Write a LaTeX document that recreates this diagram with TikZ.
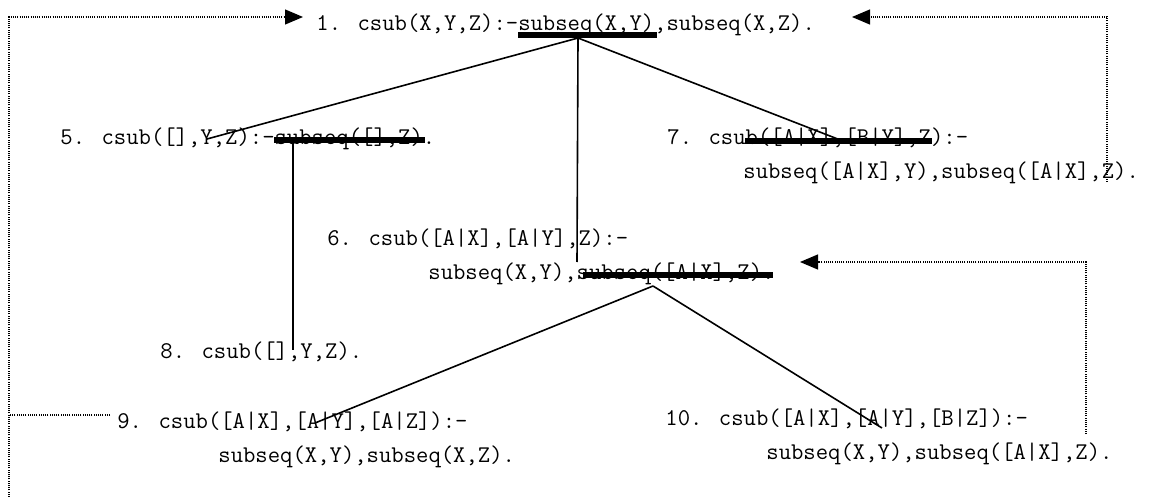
\documentclass[tikz,border=0pt]{standalone}
\usepackage{fontspec}
\usetikzlibrary{arrows.meta}

\tikzset{
  clause/.style={anchor=base west, inner sep=0pt, font=\fontsize{12}{17}\selectfont\ttfamily},
  branch/.style={line width=0.8pt},
  cut/.style={line width=2.6pt},
  dots/.style={line width=0.6pt, dash pattern=on 0.5pt off 0.6pt},
  loopback/.style={dots, -{Triangle[length=9pt,width=7.5pt]}},
}

\begin{document}
\begin{tikzpicture}[x=0.5pt,y=-0.5pt]
			\useasboundingbox (0,0) rectangle (1150,497);
			% Clausulas
				\node[clause] (c1) at (316,31) {1. csub(X,Y,Z):-subseq(X,Y),subseq(X,Z).};
				\node[clause] (c5) at (60,145) {5. csub([],Y,Z):-subseq([],Z).};
				\node[clause] (c7) at (667,145) {7. csub([A|X],[B|Y],Z):-};
				\node[clause] (c7b) at (743,179) {subseq([A|X],Y),subseq([A|X],Z).};
				\node[clause] (c6) at (327,245) {6. csub([A|X],[A|Y],Z):-};
				\node[clause] (c6b) at (428,279) {subseq(X,Y),subseq([A|X],Z).};
				\node[clause] (c8) at (160,358) {8. csub([],Y,Z).};
				\node[clause] (c9) at (117,428) {9. csub([A|X],[A|Y],[A|Z]):-};
				\node[clause] (c9b) at (218,462) {subseq(X,Y),subseq(X,Z).};
				\node[clause] (c10) at (665,425) {10. csub([A|X],[A|Y],[B|Z]):-};
				\node[clause] (c10b) at (766,459) {subseq(X,Y),subseq([A|X],Z).};
			
			% Tachados
				\draw[cut] (518,35) -- (657,35);
				\draw[cut] (274,140) -- (425,140);
				\draw[cut] (745,141) -- (932,141);
				\draw[cut] (583,275) -- (773,275);
			
			% Ramas
				\coordinate (r1) at (578,38);
				\coordinate (r5) at (293,142);
				\coordinate (r6) at (653,286);
				\coordinate (e5) at (207,139);
				\coordinate (e6) at (577,262);
				\coordinate (e7) at (848,143);
				\coordinate (e8) at (293,350);
				\coordinate (e9) at (315,423);
				\coordinate (e10) at (882,428);
				\draw[branch] (r1) -- (e5);
				\draw[branch] (r1) -- (e6);
				\draw[branch] (r1) -- (e7);
				\draw[branch] (r5) -- (e8);
				\draw[branch] (r6) -- (e9);
				\draw[branch] (r6) -- (e10);
			
			% Retornos
				\coordinate (in1a) at (303,17);
				\coordinate (in1b) at (852,17);
				\coordinate (in6) at (800,262);
				\coordinate (out9) at (110,415);
				\coordinate (out7) at (1107,182);
				\coordinate (out10) at (1086,434);
				\coordinate (foot) at (9,497);
				\draw[loopback] (foot) |- (in1a);
				\draw[dots] (out9) -- (9,415);
				\draw[loopback] (out7) |- (in1b);
				\draw[loopback] (out10) |- (in6);
		\end{tikzpicture}
\end{document}
